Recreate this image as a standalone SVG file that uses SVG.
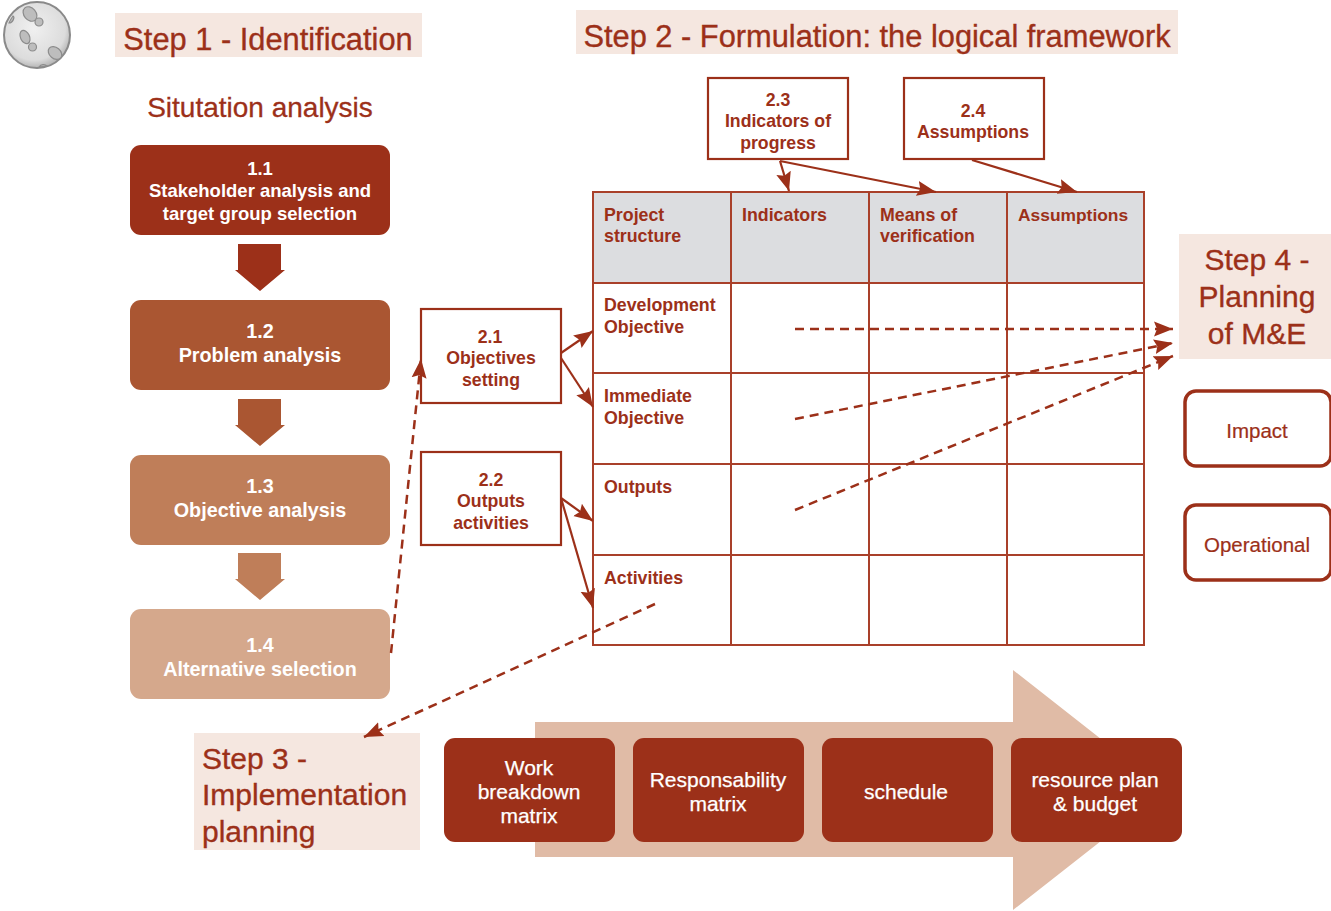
<svg xmlns="http://www.w3.org/2000/svg" width="1331" height="911" viewBox="0 0 1331 911">
<style>
text{font-family:"Liberation Sans",Arial,sans-serif;fill:#9c3019;text-anchor:middle}
.h{font-size:30px;stroke:#9c3019;stroke-width:.35}
.h1{font-size:30.8px;stroke:#9c3019;stroke-width:.35}
.b{font-size:17.7px;font-weight:700}
.w{fill:#fff;font-size:18.5px;font-weight:700}
.x{fill:#fff;font-size:19.8px;font-weight:700}
.m{fill:#fff;font-size:21px;stroke:#fff;stroke-width:.25}
.c{font-size:17.8px;font-weight:700;text-anchor:start}
.l{font-size:20.5px;stroke:#9c3019;stroke-width:.2}
.o{fill:#fff;stroke:#9c3019;stroke-width:2.2}
.bg{fill:#f5e7e0}
.g{fill:none;stroke:#a9402a;stroke-width:2}
.con{fill:none;stroke:#9c3019;stroke-width:2.2;marker-end:url(#a)}
.d{stroke-dasharray:9 6;stroke-width:2.5}
.r{fill:#fff;stroke:#9c3019;stroke-width:3.5}
</style>
<defs>
<marker id="a" markerUnits="userSpaceOnUse" markerWidth="22" markerHeight="18" refX="19" refY="8" orient="auto" viewBox="0 0 22 16"><path d="M0 0.500L19 8L0 15.500L3 8Z" fill="#9c3019"/></marker>
<radialGradient id="moon" cx="45%" cy="40%" r="60%"><stop offset="0" stop-color="#f0f0f0"/><stop offset=".8" stop-color="#dcdcdc"/><stop offset="1" stop-color="#b5b5b5"/></radialGradient>
</defs>

<g id="moon-icon">
<circle cx="37" cy="35" r="33" fill="url(#moon)" stroke="#8a8a8a" stroke-width="2"/>
<g fill="#bdbdbd" stroke="#8c8c8c" stroke-width="1.2">
<ellipse cx="30" cy="14" rx="6" ry="8" transform="rotate(-40 30 14)"/>
<circle cx="39" cy="22" r="4"/>
<ellipse cx="25" cy="37" rx="4.5" ry="7" transform="rotate(-25 25 37)"/>
<circle cx="32.500" cy="47" r="4"/>
<ellipse cx="55" cy="53" rx="5.500" ry="7.500" transform="rotate(-50 55 53)"/>
<path d="M13 16a33 33 0 0 0-4 7c4 0 6-6 4-7Z"/>
<path d="M39 67c2-3 6-3 8-1Z"/>
</g>
</g>

<g id="step1"><rect class="bg" x="115" y="13" width="307" height="44"/><text class="h1" x="268" y="49.500">Step 1 - Identification</text></g>
<g id="step2"><rect class="bg" x="576" y="10" width="602" height="44"/><text class="h1" x="877" y="46.500">Step 2 - Formulation: the logical framework</text></g>
<g id="situation"><text x="260" y="117" style="font-size:28px;stroke:#9c3019;stroke-width:.3">Situtation analysis</text></g>

<g id="arrows-down">
<path d="M238 244H281V270H285L260 291L235 270H238Z" fill="#9c3019"/>
<path d="M238 399H281V425H285L260 446L235 425H238Z" fill="#aa5632"/>
<path d="M238 553H281V579H285L260 600L235 579H238Z" fill="#bf7e59"/>
</g>

<g id="n11"><rect x="130" y="145" width="260" height="90" rx="11" fill="#9c3019"/><text class="w" x="260" y="175">1.1</text><text class="w" x="260" y="197">Stakeholder analysis and</text><text class="w" x="260" y="220">target group selection</text></g>
<g id="n12"><rect x="130" y="300" width="260" height="90" rx="11" fill="#aa5632"/><text class="x" x="260" y="338">1.2</text><text class="x" x="260" y="362">Problem analysis</text></g>
<g id="n13"><rect x="130" y="455" width="260" height="90" rx="11" fill="#bf7e59"/><text class="x" x="260" y="493">1.3</text><text class="x" x="260" y="517">Objective analysis</text></g>
<g id="n14"><rect x="130" y="609" width="260" height="90" rx="11" fill="#d5a88c"/><text class="x" x="260" y="652">1.4</text><text class="x" x="260" y="676">Alternative selection</text></g>

<g id="n21"><rect class="o" x="421" y="309" width="140" height="94"/><text class="b" x="490" y="343">2.1</text><text class="b" x="491" y="364">Objectives</text><text class="b" x="491" y="386">setting</text></g>
<g id="n22"><rect class="o" x="421" y="452" width="140" height="93"/><text class="b" x="491" y="486">2.2</text><text class="b" x="491" y="507">Outputs</text><text class="b" x="491" y="529">activities</text></g>
<g id="n23"><rect class="o" x="708" y="78" width="140" height="81"/><text class="b" x="778" y="106">2.3</text><text class="b" x="778" y="127">Indicators of</text><text class="b" x="778" y="149">progress</text></g>
<g id="n24"><rect class="o" x="904" y="78" width="140" height="81"/><text class="b" x="973" y="117">2.4</text><text class="b" x="973" y="138">Assumptions</text></g>

<g id="logframe">
<rect x="593" y="192" width="551" height="91" fill="#dcdde0"/>
<rect class="g" x="593" y="192" width="551" height="453"/>
<path class="g" d="M731 192V645M869 192V645M1007 192V645M593 283H1144M593 373H1144M593 464H1144M593 555H1144"/>
<g>
<text class="c" x="604" y="221">Project</text><text class="c" x="604" y="242">structure</text>
<text class="c" x="742" y="221">Indicators</text>
<text class="c" x="880" y="221">Means of</text><text class="c" x="880" y="242">verification</text>
<text class="c" x="1018" y="221" style="font-size:17.4px">Assumptions</text>
<text class="c" x="604" y="311">Development</text><text class="c" x="604" y="333">Objective</text>
<text class="c" x="604" y="402">Immediate</text><text class="c" x="604" y="424">Objective</text>
<text class="c" x="604" y="493">Outputs</text>
<text class="c" x="604" y="584">Activities</text>
</g>
</g>

<g id="step4"><rect class="bg" x="1179" y="234" width="152" height="125"/><text class="h" x="1257" y="270">Step 4 -</text><text class="h" x="1257" y="307">Planning</text><text class="h" x="1257" y="344">of M&amp;E</text></g>
<g id="impact"><rect class="r" x="1185" y="391" width="146" height="75" rx="11"/><text class="l" x="1257" y="438">Impact</text></g>
<g id="operational"><rect class="r" x="1185" y="505" width="146" height="75" rx="11"/><text class="l" x="1257" y="552">Operational</text></g>

<g id="big-arrow"><path d="M535 722H1013V670L1166 790L1013 910V857H535Z" fill="#e0bba6"/></g>
<g id="step3"><rect class="bg" x="194" y="733" width="226" height="117"/>
<text class="h" x="202" y="769" style="text-anchor:start">Step 3 -</text><text class="h" x="202" y="805" style="text-anchor:start">Implementation</text><text class="h" x="202" y="842" style="text-anchor:start">planning</text></g>
<g id="m1"><rect x="444" y="738" width="171" height="104" rx="11" fill="#9c3019"/><text class="m" x="529" y="775">Work</text><text class="m" x="529" y="799">breakdown</text><text class="m" x="529" y="823">matrix</text></g>
<g id="m2"><rect x="633" y="738" width="171" height="104" rx="11" fill="#9c3019"/><text class="m" x="718" y="787">Responsability</text><text class="m" x="718" y="811">matrix</text></g>
<g id="m3"><rect x="822" y="738" width="171" height="104" rx="11" fill="#9c3019"/><text class="m" x="906" y="799">schedule</text></g>
<g id="m4"><rect x="1011" y="738" width="171" height="104" rx="11" fill="#9c3019"/><text class="m" x="1095" y="787">resource plan</text><text class="m" x="1095" y="811">&amp; budget</text></g>

<g id="connectors">
<path class="con" d="M561 353L593 331"/>
<path class="con" d="M561 358L593 407"/>
<path class="con" d="M561 498L593 521"/>
<path class="con" d="M561 498L593 608"/>
<path class="con" d="M780 161L789 191"/>
<path class="con" d="M780 161L936 192"/>
<path class="con" d="M972 160L1077 192"/>
<path class="con d" d="M391 653L421 359"/>
<path class="con d" d="M655 604L364 737"/>
<path class="con d" d="M795 329H1173"/>
<path class="con d" d="M795 419L1173 343"/>
<path class="con d" d="M795 510L1173 356"/>
</g>
</svg>
